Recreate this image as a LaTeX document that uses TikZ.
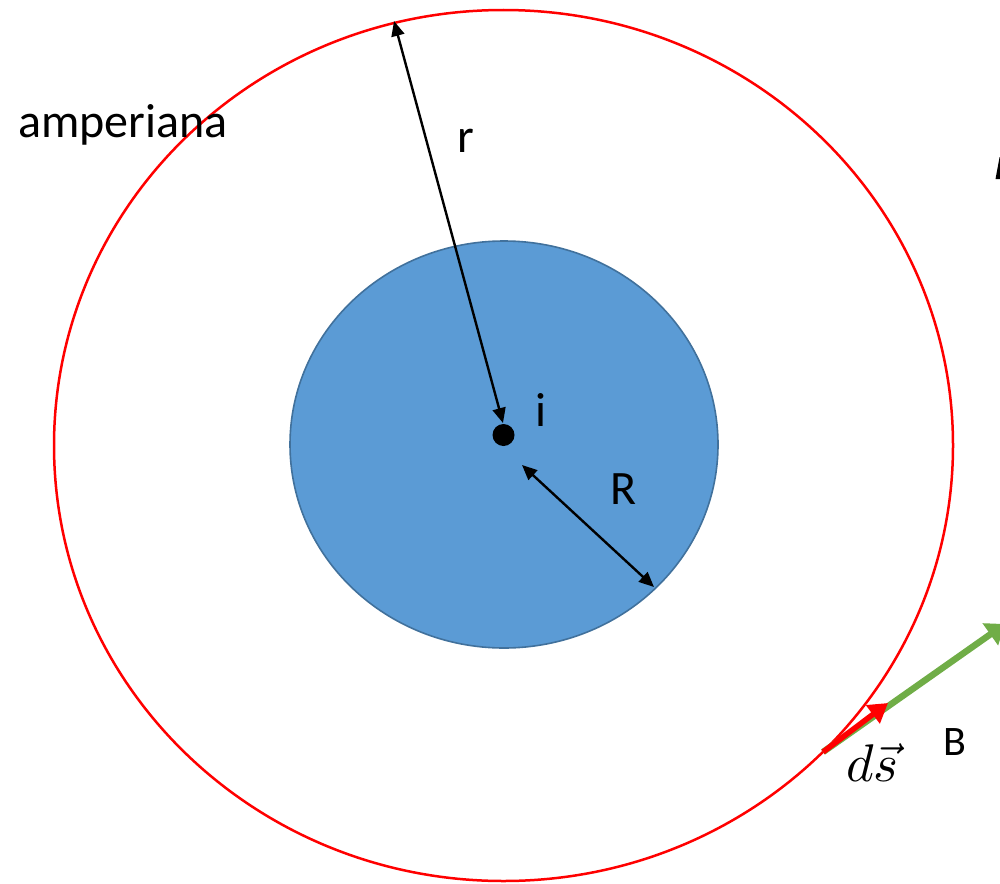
\documentclass[tikz,border=0pt]{standalone}
\usepackage{fontspec}
\setmainfont{Carlito}
\usetikzlibrary{arrows.meta,shapes.geometric}
\definecolor{ampred}{RGB}{255,0,0}
\definecolor{wirefill}{RGB}{91,155,213}
\definecolor{wireedge}{RGB}{65,113,156}
\definecolor{bgreen}{RGB}{112,173,71}
\tikzset{
  lbl/.style={anchor=base west,inner sep=0pt,font=\fontsize{48}{57}\selectfont},
  dimarrow/.style={line width=2.4pt,{Triangle[length=15pt,width=13pt]}-{Triangle[length=15pt,width=13pt]}},
}
\begin{document}
\begin{tikzpicture}[x=1pt,y=-1pt]
\useasboundingbox (0,0) rectangle (1000,883);
% amperian loop
\node[draw=ampred,line width=2.5pt,ellipse,minimum width=899pt,minimum height=871pt,inner sep=0pt] (loop) at (503.5,445.5) {};
% wire cross-section
\node[draw=wireedge,fill=wirefill,line width=1.6pt,ellipse,minimum width=428pt,minimum height=407pt,inner sep=0pt] (wire) at (504,444.5) {};
% centre dot
\node[circle,fill=black,minimum size=22pt,inner sep=0pt] (dot) at (503.5,435) {};
% coordinates for arrow ends
\coordinate (rtop) at (394,21);
\coordinate (rbot) at (503,423);
\coordinate (Ra) at (522,465);
\coordinate (Rb) at (654,587);
\coordinate (tail) at (823,752);
\coordinate (dstip) at (888,703);
\coordinate (Btip) at (1005,624);
% radius arrows
\draw[dimarrow] (rtop) -- (rbot);
\draw[dimarrow] (Ra) -- (Rb);
% field and ds
\draw[bgreen,line width=6.5pt,-{Triangle[length=18pt,width=26pt]}] (tail) -- (Btip);
\draw[ampred,line width=5.5pt,-{Triangle[length=19pt,width=22pt]}] (tail) -- (dstip);
% labels
\node[lbl] (tamp) at (18,137) {amperiana};
\node[lbl] (tr) at (457,152) {r};
\node[lbl] (ti) at (535,426) {i};
\node[lbl] (tR) at (610,504) {R};
\node[anchor=base west,inner sep=0pt,font=\fontsize{42}{50}\selectfont] (tB) at (943,755) {B};
\node[anchor=base west,inner sep=0pt,scale=5.3] (tds) at (845,781) {$d\vec{s}$};
% sliver of a glyph cut by the right edge
\fill (995.5,179) -- (999.6,157) -- (1000,157) -- (1000,179) -- cycle;
\end{tikzpicture}
\end{document}
